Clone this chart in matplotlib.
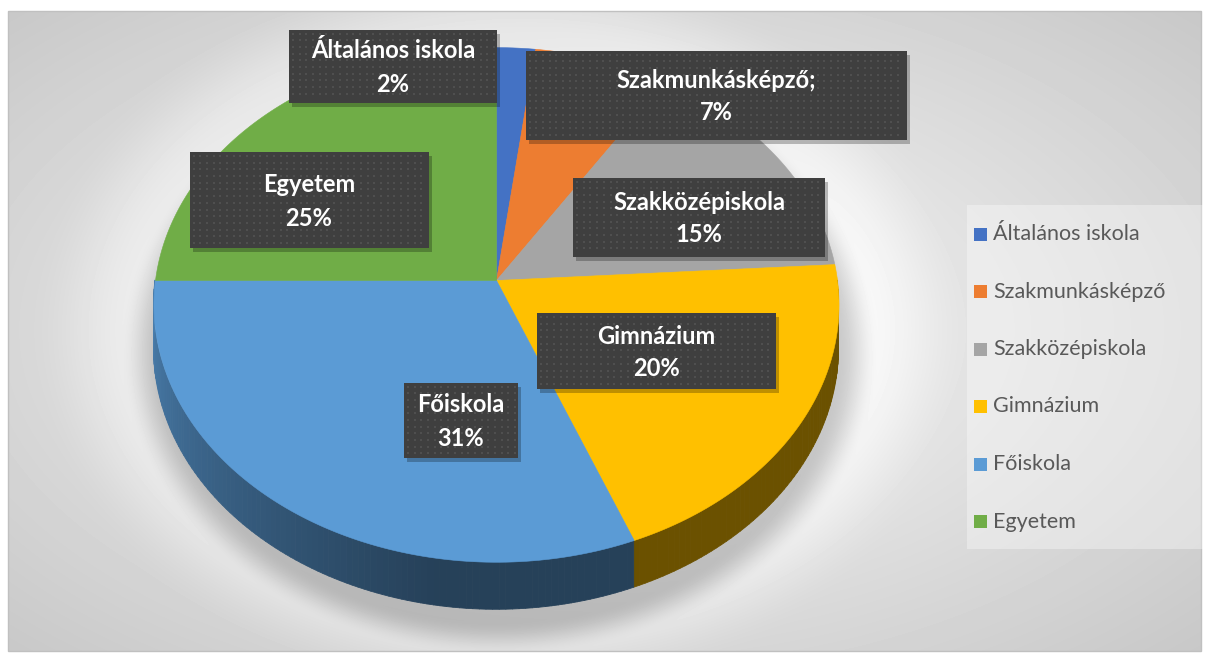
import numpy as np
import matplotlib.pyplot as plt
from matplotlib.patches import Rectangle
from matplotlib.collections import PolyCollection
from matplotlib.colors import to_rgb

plt.rcParams['font.family'] = ['Lato', 'DejaVu Sans']

# data
categories = ['Általános iskola', 'Szakmunkásképző', 'Szakközépiskola',
              'Gimnázium', 'Főiskola', 'Egyetem']
label_names = ['Általános iskola', 'Szakmunkásképző;', 'Szakközépiskola',
               'Gimnázium', 'Főiskola', 'Egyetem']
shares = [2, 7, 15, 20, 31, 25]
colors = ['#4472C4', '#ED7D31', '#A5A5A5', '#FFC000', '#5B9BD5', '#70AD47']

# label box centres / sizes in pixels (layout only)
label_boxes = [(393, 66, 208, 73), (716, 95, 381, 89), (699, 217, 252, 79),
               (656, 351, 239, 76), (461, 420, 114, 75), (309, 200, 239, 96)]

W, H = 1209, 661
fig = plt.figure(figsize=(W / 100, H / 100), dpi=100)
ax = fig.add_axes([0, 0, 1, 1])
ax.set_xlim(0, W)
ax.set_ylim(H, 0)
ax.axis('off')

# background: radial gradient, soft glow and pie shadow
yy, xx = np.mgrid[0:H, 0:W] + 0.5


def soft(cx, cy, rx, ry, edge):
    r = np.sqrt(((xx - cx) / rx) ** 2 + ((yy - cy) / ry) ** 2)
    t = np.clip((1 + edge - r) / (2 * edge), 0, 1)
    return t * t * (3 - 2 * t)


d = np.sqrt(((xx - 600) / 600) ** 2 + ((yy - 330) / 330) ** 2)
bg = 250 - 36 * d
bg += 14 * soft(500, 330, 420, 335, 0.12)
bg -= 48 * soft(500, 352, 358, 287, 0.06)
inside = (xx > 8) & (xx < 1201) & (yy > 11) & (yy < 651)
bg = np.where(inside, np.clip(bg, 0, 255), 255)
ax.imshow(bg, cmap='gray', vmin=0, vmax=255, extent=(0, W, H, 0),
          interpolation='bilinear', zorder=0)
ax.add_patch(Rectangle((8, 11), 1193, 640, fill=False, ec='#c0c0c0', lw=1, zorder=1))

# 3D pie projection
cx, cy = 496, 280
A, B, P, D = 341, 255, 0.095, 43


def proj(theta, z=0.0):
    t = np.radians(theta)
    u, v = np.sin(t), -np.cos(t)
    w = 1 - P * v
    return cx + A * u / w, cy + (B * v + D * z) / w


def shade(th):
    if th <= 190:
        return 0.42
    return 0.42 + 0.4 * min((th - 190) / 80, 1)


edges = np.concatenate([[0], np.cumsum(shares)]) / sum(shares) * 360

# side walls (front half only)
side_polys, side_cols = [], []
for i in range(len(shares)):
    a0, a1 = max(edges[i], 90), min(edges[i + 1], 270)
    if a1 <= a0:
        continue
    ths = np.linspace(a0, a1, max(int((a1 - a0) / 1.0), 2) + 1)
    base = np.array(to_rgb(colors[i]))
    for t0, t1 in zip(ths[:-1], ths[1:]):
        p0, p1 = proj(t0), proj(t1)
        q1, q0 = proj(t1, 1), proj(t0, 1)
        side_polys.append([p0, p1, q1, q0])
        side_cols.append(base * shade((t0 + t1) / 2))
ax.add_collection(PolyCollection(side_polys, facecolors=side_cols,
                                 edgecolors=side_cols, linewidths=0.6, zorder=2))

# top faces
for i in range(len(shares)):
    ths = np.linspace(edges[i], edges[i + 1], max(int(edges[i + 1] - edges[i]), 2) + 1)
    pts = [(cx, cy)] + [proj(t) for t in ths]
    ax.add_collection(PolyCollection([pts], facecolors=colors[i],
                                     edgecolors=colors[i], linewidths=0.4, zorder=3))

# data labels
for name, val, (bx, by, bw, bh) in zip(label_names, shares, label_boxes):
    x0, y0 = bx - bw / 2, by - bh / 2
    ax.add_patch(Rectangle((x0 + 3, y0 + 4), bw, bh, fc='black', ec='none',
                           alpha=0.25, zorder=4))
    ax.add_patch(Rectangle((x0, y0), bw, bh, fc='#3f3f3f', ec='none', zorder=5))
    gx = np.arange(x0 + 4, x0 + bw - 2, 6.7)
    gy = np.arange(y0 + 4, y0 + bh - 2, 6.7)
    GX, GY = np.meshgrid(gx, gy)
    ax.scatter(GX.ravel(), GY.ravel(), s=1.0, c='#4f4f4f', marker='s',
               linewidths=0, zorder=6)
    ax.text(bx, by - 15, name, color='white', fontsize=17, fontweight='bold',
            ha='center', va='center', zorder=7)
    ax.text(bx, by + 18, f'{val}%', color='white', fontsize=17, fontweight='bold',
            ha='center', va='center', zorder=7)

# legend
ax.add_patch(Rectangle((967, 205), 239, 344, fc='white', ec='none', alpha=0.35, zorder=1))
for k, (cat, col) in enumerate(zip(categories, colors)):
    ly = 234 + k * 57.5
    ax.add_patch(Rectangle((974, ly - 6.5), 13, 13, fc=col, ec='none', zorder=3))
    ax.text(993, ly, cat, color='#595959', fontsize=15.5, ha='left',
            va='center', zorder=3)

fig.savefig('out.png', dpi=100)
